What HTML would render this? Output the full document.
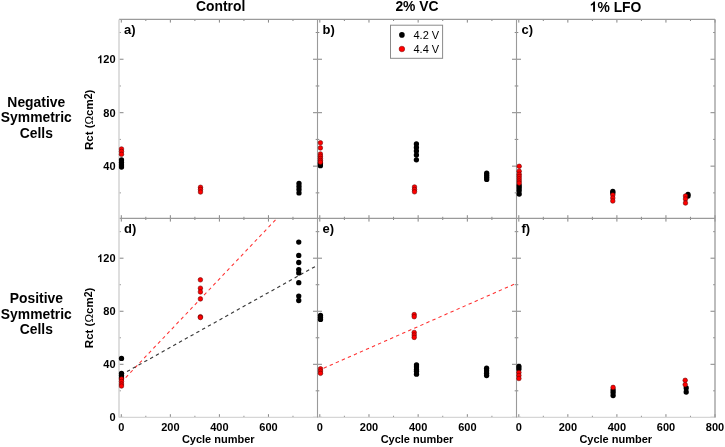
<!DOCTYPE html>
<html><head><meta charset="utf-8"><style>
html,body{margin:0;padding:0;background:#fff;}
body{width:725px;height:447px;overflow:hidden;}
svg{display:block;filter:blur(0.45px);}
</style></head><body>
<svg width="725" height="447" viewBox="0 0 725 447">
<rect width="725" height="447" fill="#fff"/>
<line x1="121.30" y1="19.40" x2="121.30" y2="22.60" stroke="#858585" stroke-width="1.0"/>
<line x1="121.30" y1="218.40" x2="121.30" y2="215.20" stroke="#858585" stroke-width="1.0"/>
<line x1="145.82" y1="19.40" x2="145.82" y2="21.00" stroke="#858585" stroke-width="1.0"/>
<line x1="145.82" y1="218.40" x2="145.82" y2="216.80" stroke="#858585" stroke-width="1.0"/>
<line x1="170.35" y1="19.40" x2="170.35" y2="22.60" stroke="#858585" stroke-width="1.0"/>
<line x1="170.35" y1="218.40" x2="170.35" y2="215.20" stroke="#858585" stroke-width="1.0"/>
<line x1="194.88" y1="19.40" x2="194.88" y2="21.00" stroke="#858585" stroke-width="1.0"/>
<line x1="194.88" y1="218.40" x2="194.88" y2="216.80" stroke="#858585" stroke-width="1.0"/>
<line x1="219.40" y1="19.40" x2="219.40" y2="22.60" stroke="#858585" stroke-width="1.0"/>
<line x1="219.40" y1="218.40" x2="219.40" y2="215.20" stroke="#858585" stroke-width="1.0"/>
<line x1="243.93" y1="19.40" x2="243.93" y2="21.00" stroke="#858585" stroke-width="1.0"/>
<line x1="243.93" y1="218.40" x2="243.93" y2="216.80" stroke="#858585" stroke-width="1.0"/>
<line x1="268.45" y1="19.40" x2="268.45" y2="22.60" stroke="#858585" stroke-width="1.0"/>
<line x1="268.45" y1="218.40" x2="268.45" y2="215.20" stroke="#858585" stroke-width="1.0"/>
<line x1="292.98" y1="19.40" x2="292.98" y2="21.00" stroke="#858585" stroke-width="1.0"/>
<line x1="292.98" y1="218.40" x2="292.98" y2="216.80" stroke="#858585" stroke-width="1.0"/>
<line x1="317.50" y1="19.40" x2="317.50" y2="22.60" stroke="#858585" stroke-width="1.0"/>
<line x1="317.50" y1="218.40" x2="317.50" y2="215.20" stroke="#858585" stroke-width="1.0"/>
<line x1="119.00" y1="192.87" x2="120.80" y2="192.87" stroke="#858585" stroke-width="1.0"/>
<line x1="317.50" y1="192.87" x2="315.70" y2="192.87" stroke="#858585" stroke-width="1.0"/>
<line x1="119.00" y1="166.15" x2="123.50" y2="166.15" stroke="#858585" stroke-width="1.0"/>
<line x1="317.50" y1="166.15" x2="313.00" y2="166.15" stroke="#858585" stroke-width="1.0"/>
<line x1="119.00" y1="139.42" x2="120.80" y2="139.42" stroke="#858585" stroke-width="1.0"/>
<line x1="317.50" y1="139.42" x2="315.70" y2="139.42" stroke="#858585" stroke-width="1.0"/>
<line x1="119.00" y1="112.70" x2="123.50" y2="112.70" stroke="#858585" stroke-width="1.0"/>
<line x1="317.50" y1="112.70" x2="313.00" y2="112.70" stroke="#858585" stroke-width="1.0"/>
<line x1="119.00" y1="85.97" x2="120.80" y2="85.97" stroke="#858585" stroke-width="1.0"/>
<line x1="317.50" y1="85.97" x2="315.70" y2="85.97" stroke="#858585" stroke-width="1.0"/>
<line x1="119.00" y1="59.24" x2="123.50" y2="59.24" stroke="#858585" stroke-width="1.0"/>
<line x1="317.50" y1="59.24" x2="313.00" y2="59.24" stroke="#858585" stroke-width="1.0"/>
<line x1="119.00" y1="32.52" x2="120.80" y2="32.52" stroke="#858585" stroke-width="1.0"/>
<line x1="317.50" y1="32.52" x2="315.70" y2="32.52" stroke="#858585" stroke-width="1.0"/>
<line x1="319.80" y1="19.40" x2="319.80" y2="22.60" stroke="#858585" stroke-width="1.0"/>
<line x1="319.80" y1="218.40" x2="319.80" y2="215.20" stroke="#858585" stroke-width="1.0"/>
<line x1="344.39" y1="19.40" x2="344.39" y2="21.00" stroke="#858585" stroke-width="1.0"/>
<line x1="344.39" y1="218.40" x2="344.39" y2="216.80" stroke="#858585" stroke-width="1.0"/>
<line x1="368.98" y1="19.40" x2="368.98" y2="22.60" stroke="#858585" stroke-width="1.0"/>
<line x1="368.98" y1="218.40" x2="368.98" y2="215.20" stroke="#858585" stroke-width="1.0"/>
<line x1="393.56" y1="19.40" x2="393.56" y2="21.00" stroke="#858585" stroke-width="1.0"/>
<line x1="393.56" y1="218.40" x2="393.56" y2="216.80" stroke="#858585" stroke-width="1.0"/>
<line x1="418.15" y1="19.40" x2="418.15" y2="22.60" stroke="#858585" stroke-width="1.0"/>
<line x1="418.15" y1="218.40" x2="418.15" y2="215.20" stroke="#858585" stroke-width="1.0"/>
<line x1="442.74" y1="19.40" x2="442.74" y2="21.00" stroke="#858585" stroke-width="1.0"/>
<line x1="442.74" y1="218.40" x2="442.74" y2="216.80" stroke="#858585" stroke-width="1.0"/>
<line x1="467.33" y1="19.40" x2="467.33" y2="22.60" stroke="#858585" stroke-width="1.0"/>
<line x1="467.33" y1="218.40" x2="467.33" y2="215.20" stroke="#858585" stroke-width="1.0"/>
<line x1="491.91" y1="19.40" x2="491.91" y2="21.00" stroke="#858585" stroke-width="1.0"/>
<line x1="491.91" y1="218.40" x2="491.91" y2="216.80" stroke="#858585" stroke-width="1.0"/>
<line x1="516.50" y1="19.40" x2="516.50" y2="22.60" stroke="#858585" stroke-width="1.0"/>
<line x1="516.50" y1="218.40" x2="516.50" y2="215.20" stroke="#858585" stroke-width="1.0"/>
<line x1="317.50" y1="192.87" x2="319.30" y2="192.87" stroke="#858585" stroke-width="1.0"/>
<line x1="516.50" y1="192.87" x2="514.70" y2="192.87" stroke="#858585" stroke-width="1.0"/>
<line x1="317.50" y1="166.15" x2="322.00" y2="166.15" stroke="#858585" stroke-width="1.0"/>
<line x1="516.50" y1="166.15" x2="512.00" y2="166.15" stroke="#858585" stroke-width="1.0"/>
<line x1="317.50" y1="139.42" x2="319.30" y2="139.42" stroke="#858585" stroke-width="1.0"/>
<line x1="516.50" y1="139.42" x2="514.70" y2="139.42" stroke="#858585" stroke-width="1.0"/>
<line x1="317.50" y1="112.70" x2="322.00" y2="112.70" stroke="#858585" stroke-width="1.0"/>
<line x1="516.50" y1="112.70" x2="512.00" y2="112.70" stroke="#858585" stroke-width="1.0"/>
<line x1="317.50" y1="85.97" x2="319.30" y2="85.97" stroke="#858585" stroke-width="1.0"/>
<line x1="516.50" y1="85.97" x2="514.70" y2="85.97" stroke="#858585" stroke-width="1.0"/>
<line x1="317.50" y1="59.24" x2="322.00" y2="59.24" stroke="#858585" stroke-width="1.0"/>
<line x1="516.50" y1="59.24" x2="512.00" y2="59.24" stroke="#858585" stroke-width="1.0"/>
<line x1="317.50" y1="32.52" x2="319.30" y2="32.52" stroke="#858585" stroke-width="1.0"/>
<line x1="516.50" y1="32.52" x2="514.70" y2="32.52" stroke="#858585" stroke-width="1.0"/>
<line x1="518.80" y1="19.40" x2="518.80" y2="22.60" stroke="#858585" stroke-width="1.0"/>
<line x1="518.80" y1="218.40" x2="518.80" y2="215.20" stroke="#858585" stroke-width="1.0"/>
<line x1="543.32" y1="19.40" x2="543.32" y2="21.00" stroke="#858585" stroke-width="1.0"/>
<line x1="543.32" y1="218.40" x2="543.32" y2="216.80" stroke="#858585" stroke-width="1.0"/>
<line x1="567.85" y1="19.40" x2="567.85" y2="22.60" stroke="#858585" stroke-width="1.0"/>
<line x1="567.85" y1="218.40" x2="567.85" y2="215.20" stroke="#858585" stroke-width="1.0"/>
<line x1="592.38" y1="19.40" x2="592.38" y2="21.00" stroke="#858585" stroke-width="1.0"/>
<line x1="592.38" y1="218.40" x2="592.38" y2="216.80" stroke="#858585" stroke-width="1.0"/>
<line x1="616.90" y1="19.40" x2="616.90" y2="22.60" stroke="#858585" stroke-width="1.0"/>
<line x1="616.90" y1="218.40" x2="616.90" y2="215.20" stroke="#858585" stroke-width="1.0"/>
<line x1="641.42" y1="19.40" x2="641.42" y2="21.00" stroke="#858585" stroke-width="1.0"/>
<line x1="641.42" y1="218.40" x2="641.42" y2="216.80" stroke="#858585" stroke-width="1.0"/>
<line x1="665.95" y1="19.40" x2="665.95" y2="22.60" stroke="#858585" stroke-width="1.0"/>
<line x1="665.95" y1="218.40" x2="665.95" y2="215.20" stroke="#858585" stroke-width="1.0"/>
<line x1="690.47" y1="19.40" x2="690.47" y2="21.00" stroke="#858585" stroke-width="1.0"/>
<line x1="690.47" y1="218.40" x2="690.47" y2="216.80" stroke="#858585" stroke-width="1.0"/>
<line x1="715.00" y1="19.40" x2="715.00" y2="22.60" stroke="#858585" stroke-width="1.0"/>
<line x1="715.00" y1="218.40" x2="715.00" y2="215.20" stroke="#858585" stroke-width="1.0"/>
<line x1="516.50" y1="192.87" x2="518.30" y2="192.87" stroke="#858585" stroke-width="1.0"/>
<line x1="715.00" y1="192.87" x2="713.20" y2="192.87" stroke="#858585" stroke-width="1.0"/>
<line x1="516.50" y1="166.15" x2="521.00" y2="166.15" stroke="#858585" stroke-width="1.0"/>
<line x1="715.00" y1="166.15" x2="710.50" y2="166.15" stroke="#858585" stroke-width="1.0"/>
<line x1="516.50" y1="139.42" x2="518.30" y2="139.42" stroke="#858585" stroke-width="1.0"/>
<line x1="715.00" y1="139.42" x2="713.20" y2="139.42" stroke="#858585" stroke-width="1.0"/>
<line x1="516.50" y1="112.70" x2="521.00" y2="112.70" stroke="#858585" stroke-width="1.0"/>
<line x1="715.00" y1="112.70" x2="710.50" y2="112.70" stroke="#858585" stroke-width="1.0"/>
<line x1="516.50" y1="85.97" x2="518.30" y2="85.97" stroke="#858585" stroke-width="1.0"/>
<line x1="715.00" y1="85.97" x2="713.20" y2="85.97" stroke="#858585" stroke-width="1.0"/>
<line x1="516.50" y1="59.24" x2="521.00" y2="59.24" stroke="#858585" stroke-width="1.0"/>
<line x1="715.00" y1="59.24" x2="710.50" y2="59.24" stroke="#858585" stroke-width="1.0"/>
<line x1="516.50" y1="32.52" x2="518.30" y2="32.52" stroke="#858585" stroke-width="1.0"/>
<line x1="715.00" y1="32.52" x2="713.20" y2="32.52" stroke="#858585" stroke-width="1.0"/>
<line x1="121.30" y1="218.40" x2="121.30" y2="221.60" stroke="#858585" stroke-width="1.0"/>
<line x1="121.30" y1="417.40" x2="121.30" y2="414.20" stroke="#858585" stroke-width="1.0"/>
<line x1="145.82" y1="218.40" x2="145.82" y2="220.00" stroke="#858585" stroke-width="1.0"/>
<line x1="145.82" y1="417.40" x2="145.82" y2="415.80" stroke="#858585" stroke-width="1.0"/>
<line x1="170.35" y1="218.40" x2="170.35" y2="221.60" stroke="#858585" stroke-width="1.0"/>
<line x1="170.35" y1="417.40" x2="170.35" y2="414.20" stroke="#858585" stroke-width="1.0"/>
<line x1="194.88" y1="218.40" x2="194.88" y2="220.00" stroke="#858585" stroke-width="1.0"/>
<line x1="194.88" y1="417.40" x2="194.88" y2="415.80" stroke="#858585" stroke-width="1.0"/>
<line x1="219.40" y1="218.40" x2="219.40" y2="221.60" stroke="#858585" stroke-width="1.0"/>
<line x1="219.40" y1="417.40" x2="219.40" y2="414.20" stroke="#858585" stroke-width="1.0"/>
<line x1="243.93" y1="218.40" x2="243.93" y2="220.00" stroke="#858585" stroke-width="1.0"/>
<line x1="243.93" y1="417.40" x2="243.93" y2="415.80" stroke="#858585" stroke-width="1.0"/>
<line x1="268.45" y1="218.40" x2="268.45" y2="221.60" stroke="#858585" stroke-width="1.0"/>
<line x1="268.45" y1="417.40" x2="268.45" y2="414.20" stroke="#858585" stroke-width="1.0"/>
<line x1="292.98" y1="218.40" x2="292.98" y2="220.00" stroke="#858585" stroke-width="1.0"/>
<line x1="292.98" y1="417.40" x2="292.98" y2="415.80" stroke="#858585" stroke-width="1.0"/>
<line x1="317.50" y1="218.40" x2="317.50" y2="221.60" stroke="#858585" stroke-width="1.0"/>
<line x1="317.50" y1="417.40" x2="317.50" y2="414.20" stroke="#858585" stroke-width="1.0"/>
<line x1="119.00" y1="417.35" x2="123.50" y2="417.35" stroke="#858585" stroke-width="1.0"/>
<line x1="317.50" y1="417.35" x2="313.00" y2="417.35" stroke="#858585" stroke-width="1.0"/>
<line x1="119.00" y1="390.82" x2="120.80" y2="390.82" stroke="#858585" stroke-width="1.0"/>
<line x1="317.50" y1="390.82" x2="315.70" y2="390.82" stroke="#858585" stroke-width="1.0"/>
<line x1="119.00" y1="364.30" x2="123.50" y2="364.30" stroke="#858585" stroke-width="1.0"/>
<line x1="317.50" y1="364.30" x2="313.00" y2="364.30" stroke="#858585" stroke-width="1.0"/>
<line x1="119.00" y1="337.77" x2="120.80" y2="337.77" stroke="#858585" stroke-width="1.0"/>
<line x1="317.50" y1="337.77" x2="315.70" y2="337.77" stroke="#858585" stroke-width="1.0"/>
<line x1="119.00" y1="311.25" x2="123.50" y2="311.25" stroke="#858585" stroke-width="1.0"/>
<line x1="317.50" y1="311.25" x2="313.00" y2="311.25" stroke="#858585" stroke-width="1.0"/>
<line x1="119.00" y1="284.72" x2="120.80" y2="284.72" stroke="#858585" stroke-width="1.0"/>
<line x1="317.50" y1="284.72" x2="315.70" y2="284.72" stroke="#858585" stroke-width="1.0"/>
<line x1="119.00" y1="258.19" x2="123.50" y2="258.19" stroke="#858585" stroke-width="1.0"/>
<line x1="317.50" y1="258.19" x2="313.00" y2="258.19" stroke="#858585" stroke-width="1.0"/>
<line x1="119.00" y1="231.67" x2="120.80" y2="231.67" stroke="#858585" stroke-width="1.0"/>
<line x1="317.50" y1="231.67" x2="315.70" y2="231.67" stroke="#858585" stroke-width="1.0"/>
<line x1="319.80" y1="218.40" x2="319.80" y2="221.60" stroke="#858585" stroke-width="1.0"/>
<line x1="319.80" y1="417.40" x2="319.80" y2="414.20" stroke="#858585" stroke-width="1.0"/>
<line x1="344.39" y1="218.40" x2="344.39" y2="220.00" stroke="#858585" stroke-width="1.0"/>
<line x1="344.39" y1="417.40" x2="344.39" y2="415.80" stroke="#858585" stroke-width="1.0"/>
<line x1="368.98" y1="218.40" x2="368.98" y2="221.60" stroke="#858585" stroke-width="1.0"/>
<line x1="368.98" y1="417.40" x2="368.98" y2="414.20" stroke="#858585" stroke-width="1.0"/>
<line x1="393.56" y1="218.40" x2="393.56" y2="220.00" stroke="#858585" stroke-width="1.0"/>
<line x1="393.56" y1="417.40" x2="393.56" y2="415.80" stroke="#858585" stroke-width="1.0"/>
<line x1="418.15" y1="218.40" x2="418.15" y2="221.60" stroke="#858585" stroke-width="1.0"/>
<line x1="418.15" y1="417.40" x2="418.15" y2="414.20" stroke="#858585" stroke-width="1.0"/>
<line x1="442.74" y1="218.40" x2="442.74" y2="220.00" stroke="#858585" stroke-width="1.0"/>
<line x1="442.74" y1="417.40" x2="442.74" y2="415.80" stroke="#858585" stroke-width="1.0"/>
<line x1="467.33" y1="218.40" x2="467.33" y2="221.60" stroke="#858585" stroke-width="1.0"/>
<line x1="467.33" y1="417.40" x2="467.33" y2="414.20" stroke="#858585" stroke-width="1.0"/>
<line x1="491.91" y1="218.40" x2="491.91" y2="220.00" stroke="#858585" stroke-width="1.0"/>
<line x1="491.91" y1="417.40" x2="491.91" y2="415.80" stroke="#858585" stroke-width="1.0"/>
<line x1="516.50" y1="218.40" x2="516.50" y2="221.60" stroke="#858585" stroke-width="1.0"/>
<line x1="516.50" y1="417.40" x2="516.50" y2="414.20" stroke="#858585" stroke-width="1.0"/>
<line x1="317.50" y1="417.35" x2="322.00" y2="417.35" stroke="#858585" stroke-width="1.0"/>
<line x1="516.50" y1="417.35" x2="512.00" y2="417.35" stroke="#858585" stroke-width="1.0"/>
<line x1="317.50" y1="390.82" x2="319.30" y2="390.82" stroke="#858585" stroke-width="1.0"/>
<line x1="516.50" y1="390.82" x2="514.70" y2="390.82" stroke="#858585" stroke-width="1.0"/>
<line x1="317.50" y1="364.30" x2="322.00" y2="364.30" stroke="#858585" stroke-width="1.0"/>
<line x1="516.50" y1="364.30" x2="512.00" y2="364.30" stroke="#858585" stroke-width="1.0"/>
<line x1="317.50" y1="337.77" x2="319.30" y2="337.77" stroke="#858585" stroke-width="1.0"/>
<line x1="516.50" y1="337.77" x2="514.70" y2="337.77" stroke="#858585" stroke-width="1.0"/>
<line x1="317.50" y1="311.25" x2="322.00" y2="311.25" stroke="#858585" stroke-width="1.0"/>
<line x1="516.50" y1="311.25" x2="512.00" y2="311.25" stroke="#858585" stroke-width="1.0"/>
<line x1="317.50" y1="284.72" x2="319.30" y2="284.72" stroke="#858585" stroke-width="1.0"/>
<line x1="516.50" y1="284.72" x2="514.70" y2="284.72" stroke="#858585" stroke-width="1.0"/>
<line x1="317.50" y1="258.19" x2="322.00" y2="258.19" stroke="#858585" stroke-width="1.0"/>
<line x1="516.50" y1="258.19" x2="512.00" y2="258.19" stroke="#858585" stroke-width="1.0"/>
<line x1="317.50" y1="231.67" x2="319.30" y2="231.67" stroke="#858585" stroke-width="1.0"/>
<line x1="516.50" y1="231.67" x2="514.70" y2="231.67" stroke="#858585" stroke-width="1.0"/>
<line x1="518.80" y1="218.40" x2="518.80" y2="221.60" stroke="#858585" stroke-width="1.0"/>
<line x1="518.80" y1="417.40" x2="518.80" y2="414.20" stroke="#858585" stroke-width="1.0"/>
<line x1="543.32" y1="218.40" x2="543.32" y2="220.00" stroke="#858585" stroke-width="1.0"/>
<line x1="543.32" y1="417.40" x2="543.32" y2="415.80" stroke="#858585" stroke-width="1.0"/>
<line x1="567.85" y1="218.40" x2="567.85" y2="221.60" stroke="#858585" stroke-width="1.0"/>
<line x1="567.85" y1="417.40" x2="567.85" y2="414.20" stroke="#858585" stroke-width="1.0"/>
<line x1="592.38" y1="218.40" x2="592.38" y2="220.00" stroke="#858585" stroke-width="1.0"/>
<line x1="592.38" y1="417.40" x2="592.38" y2="415.80" stroke="#858585" stroke-width="1.0"/>
<line x1="616.90" y1="218.40" x2="616.90" y2="221.60" stroke="#858585" stroke-width="1.0"/>
<line x1="616.90" y1="417.40" x2="616.90" y2="414.20" stroke="#858585" stroke-width="1.0"/>
<line x1="641.42" y1="218.40" x2="641.42" y2="220.00" stroke="#858585" stroke-width="1.0"/>
<line x1="641.42" y1="417.40" x2="641.42" y2="415.80" stroke="#858585" stroke-width="1.0"/>
<line x1="665.95" y1="218.40" x2="665.95" y2="221.60" stroke="#858585" stroke-width="1.0"/>
<line x1="665.95" y1="417.40" x2="665.95" y2="414.20" stroke="#858585" stroke-width="1.0"/>
<line x1="690.47" y1="218.40" x2="690.47" y2="220.00" stroke="#858585" stroke-width="1.0"/>
<line x1="690.47" y1="417.40" x2="690.47" y2="415.80" stroke="#858585" stroke-width="1.0"/>
<line x1="715.00" y1="218.40" x2="715.00" y2="221.60" stroke="#858585" stroke-width="1.0"/>
<line x1="715.00" y1="417.40" x2="715.00" y2="414.20" stroke="#858585" stroke-width="1.0"/>
<line x1="516.50" y1="417.35" x2="521.00" y2="417.35" stroke="#858585" stroke-width="1.0"/>
<line x1="715.00" y1="417.35" x2="710.50" y2="417.35" stroke="#858585" stroke-width="1.0"/>
<line x1="516.50" y1="390.82" x2="518.30" y2="390.82" stroke="#858585" stroke-width="1.0"/>
<line x1="715.00" y1="390.82" x2="713.20" y2="390.82" stroke="#858585" stroke-width="1.0"/>
<line x1="516.50" y1="364.30" x2="521.00" y2="364.30" stroke="#858585" stroke-width="1.0"/>
<line x1="715.00" y1="364.30" x2="710.50" y2="364.30" stroke="#858585" stroke-width="1.0"/>
<line x1="516.50" y1="337.77" x2="518.30" y2="337.77" stroke="#858585" stroke-width="1.0"/>
<line x1="715.00" y1="337.77" x2="713.20" y2="337.77" stroke="#858585" stroke-width="1.0"/>
<line x1="516.50" y1="311.25" x2="521.00" y2="311.25" stroke="#858585" stroke-width="1.0"/>
<line x1="715.00" y1="311.25" x2="710.50" y2="311.25" stroke="#858585" stroke-width="1.0"/>
<line x1="516.50" y1="284.72" x2="518.30" y2="284.72" stroke="#858585" stroke-width="1.0"/>
<line x1="715.00" y1="284.72" x2="713.20" y2="284.72" stroke="#858585" stroke-width="1.0"/>
<line x1="516.50" y1="258.19" x2="521.00" y2="258.19" stroke="#858585" stroke-width="1.0"/>
<line x1="715.00" y1="258.19" x2="710.50" y2="258.19" stroke="#858585" stroke-width="1.0"/>
<line x1="516.50" y1="231.67" x2="518.30" y2="231.67" stroke="#858585" stroke-width="1.0"/>
<line x1="715.00" y1="231.67" x2="713.20" y2="231.67" stroke="#858585" stroke-width="1.0"/>
<line x1="119.00" y1="19.40" x2="715.00" y2="19.40" stroke="#9a9a9a" stroke-width="1.2"/>
<line x1="119.00" y1="218.40" x2="715.00" y2="218.40" stroke="#9a9a9a" stroke-width="1.1"/>
<line x1="119.00" y1="417.40" x2="715.00" y2="417.40" stroke="#d6d6d6" stroke-width="1.3"/>
<line x1="119.00" y1="19.40" x2="119.00" y2="417.40" stroke="#d6d6d6" stroke-width="1.6"/>
<line x1="317.50" y1="19.40" x2="317.50" y2="417.40" stroke="#9a9a9a" stroke-width="1.1"/>
<line x1="516.50" y1="19.40" x2="516.50" y2="417.40" stroke="#9a9a9a" stroke-width="1.1"/>
<line x1="715.00" y1="19.40" x2="715.00" y2="417.40" stroke="#9a9a9a" stroke-width="1.3"/>
<line x1="121.5" y1="382.0" x2="276.87" y2="218.4" stroke="#ff3030" stroke-width="1.05" stroke-dasharray="3.4 3.29" stroke-dashoffset="0.56"/>
<line x1="121.5" y1="374.6" x2="317.5" y2="265.2" stroke="#383838" stroke-width="1.15" stroke-dasharray="3.4 3.22" stroke-dashoffset="0.34"/>
<line x1="320.5" y1="369.6" x2="516.5" y2="283.2" stroke="#ff3030" stroke-width="1.05" stroke-dasharray="3.4 3.2" stroke-dashoffset="3.15"/>
<circle cx="121.50" cy="160.00" r="2.65" fill="#000"/>
<circle cx="121.50" cy="162.50" r="2.65" fill="#000"/>
<circle cx="121.50" cy="165.00" r="2.65" fill="#000"/>
<circle cx="121.50" cy="167.00" r="2.65" fill="#000"/>
<circle cx="299.00" cy="183.40" r="2.65" fill="#000"/>
<circle cx="299.00" cy="186.50" r="2.65" fill="#000"/>
<circle cx="299.00" cy="189.50" r="2.65" fill="#000"/>
<circle cx="299.00" cy="192.90" r="2.65" fill="#000"/>
<circle cx="320.40" cy="163.50" r="2.65" fill="#000"/>
<circle cx="320.40" cy="165.70" r="2.65" fill="#000"/>
<circle cx="416.40" cy="144.00" r="2.65" fill="#000"/>
<circle cx="416.40" cy="147.50" r="2.65" fill="#000"/>
<circle cx="416.40" cy="151.00" r="2.65" fill="#000"/>
<circle cx="416.40" cy="155.00" r="2.65" fill="#000"/>
<circle cx="416.40" cy="159.80" r="2.65" fill="#000"/>
<circle cx="486.70" cy="173.20" r="2.65" fill="#000"/>
<circle cx="486.70" cy="175.30" r="2.65" fill="#000"/>
<circle cx="486.70" cy="177.30" r="2.65" fill="#000"/>
<circle cx="486.70" cy="179.40" r="2.65" fill="#000"/>
<circle cx="519.20" cy="185.50" r="2.65" fill="#000"/>
<circle cx="519.20" cy="187.80" r="2.65" fill="#000"/>
<circle cx="519.20" cy="190.50" r="2.65" fill="#000"/>
<circle cx="519.20" cy="194.00" r="2.65" fill="#000"/>
<circle cx="612.80" cy="191.50" r="2.65" fill="#000"/>
<circle cx="612.80" cy="193.00" r="2.65" fill="#000"/>
<circle cx="688.00" cy="194.50" r="2.65" fill="#000"/>
<circle cx="688.00" cy="196.00" r="2.65" fill="#000"/>
<circle cx="121.50" cy="358.40" r="2.65" fill="#000"/>
<circle cx="121.50" cy="373.50" r="2.65" fill="#000"/>
<circle cx="121.50" cy="375.50" r="2.65" fill="#000"/>
<circle cx="121.50" cy="378.00" r="2.65" fill="#000"/>
<circle cx="298.75" cy="242.10" r="2.65" fill="#000"/>
<circle cx="298.75" cy="255.40" r="2.65" fill="#000"/>
<circle cx="298.75" cy="262.50" r="2.65" fill="#000"/>
<circle cx="298.75" cy="269.60" r="2.65" fill="#000"/>
<circle cx="298.75" cy="272.90" r="2.65" fill="#000"/>
<circle cx="298.75" cy="282.70" r="2.65" fill="#000"/>
<circle cx="298.75" cy="296.10" r="2.65" fill="#000"/>
<circle cx="298.75" cy="300.50" r="2.65" fill="#000"/>
<circle cx="320.50" cy="315.50" r="2.65" fill="#000"/>
<circle cx="320.50" cy="317.50" r="2.65" fill="#000"/>
<circle cx="320.50" cy="319.40" r="2.65" fill="#000"/>
<circle cx="416.50" cy="364.80" r="2.65" fill="#000"/>
<circle cx="416.50" cy="367.00" r="2.65" fill="#000"/>
<circle cx="416.50" cy="369.50" r="2.65" fill="#000"/>
<circle cx="416.50" cy="371.20" r="2.65" fill="#000"/>
<circle cx="416.50" cy="374.20" r="2.65" fill="#000"/>
<circle cx="486.60" cy="368.20" r="2.65" fill="#000"/>
<circle cx="486.60" cy="370.70" r="2.65" fill="#000"/>
<circle cx="486.60" cy="373.20" r="2.65" fill="#000"/>
<circle cx="486.60" cy="375.60" r="2.65" fill="#000"/>
<circle cx="518.90" cy="366.50" r="2.65" fill="#000"/>
<circle cx="518.90" cy="369.00" r="2.65" fill="#000"/>
<circle cx="613.10" cy="390.00" r="2.65" fill="#000"/>
<circle cx="613.10" cy="392.50" r="2.65" fill="#000"/>
<circle cx="613.10" cy="395.50" r="2.65" fill="#000"/>
<circle cx="686.20" cy="388.00" r="2.65" fill="#000"/>
<circle cx="686.20" cy="392.00" r="2.65" fill="#000"/>
<circle cx="121.50" cy="149.00" r="2.3" fill="#ff0000" stroke="#600000" stroke-width="0.55"/>
<circle cx="121.50" cy="151.50" r="2.3" fill="#ff0000" stroke="#600000" stroke-width="0.55"/>
<circle cx="121.50" cy="154.30" r="2.3" fill="#ff0000" stroke="#600000" stroke-width="0.55"/>
<circle cx="200.50" cy="187.30" r="2.3" fill="#ff0000" stroke="#600000" stroke-width="0.55"/>
<circle cx="200.50" cy="189.50" r="2.3" fill="#ff0000" stroke="#600000" stroke-width="0.55"/>
<circle cx="200.50" cy="192.00" r="2.3" fill="#ff0000" stroke="#600000" stroke-width="0.55"/>
<circle cx="320.40" cy="142.80" r="2.3" fill="#ff0000" stroke="#600000" stroke-width="0.55"/>
<circle cx="320.40" cy="147.90" r="2.3" fill="#ff0000" stroke="#600000" stroke-width="0.55"/>
<circle cx="320.40" cy="154.00" r="2.3" fill="#ff0000" stroke="#600000" stroke-width="0.55"/>
<circle cx="320.40" cy="156.20" r="2.3" fill="#ff0000" stroke="#600000" stroke-width="0.55"/>
<circle cx="320.40" cy="158.50" r="2.3" fill="#ff0000" stroke="#600000" stroke-width="0.55"/>
<circle cx="320.40" cy="160.50" r="2.3" fill="#ff0000" stroke="#600000" stroke-width="0.55"/>
<circle cx="320.40" cy="162.20" r="2.3" fill="#ff0000" stroke="#600000" stroke-width="0.55"/>
<circle cx="414.50" cy="187.00" r="2.3" fill="#ff0000" stroke="#600000" stroke-width="0.55"/>
<circle cx="414.50" cy="189.50" r="2.3" fill="#ff0000" stroke="#600000" stroke-width="0.55"/>
<circle cx="414.50" cy="191.80" r="2.3" fill="#ff0000" stroke="#600000" stroke-width="0.55"/>
<circle cx="519.20" cy="166.30" r="2.3" fill="#ff0000" stroke="#600000" stroke-width="0.55"/>
<circle cx="519.20" cy="171.20" r="2.3" fill="#ff0000" stroke="#600000" stroke-width="0.55"/>
<circle cx="519.20" cy="174.30" r="2.3" fill="#ff0000" stroke="#600000" stroke-width="0.55"/>
<circle cx="519.20" cy="176.50" r="2.3" fill="#ff0000" stroke="#600000" stroke-width="0.55"/>
<circle cx="519.20" cy="178.80" r="2.3" fill="#ff0000" stroke="#600000" stroke-width="0.55"/>
<circle cx="519.20" cy="181.00" r="2.3" fill="#ff0000" stroke="#600000" stroke-width="0.55"/>
<circle cx="519.20" cy="183.10" r="2.3" fill="#ff0000" stroke="#600000" stroke-width="0.55"/>
<circle cx="612.80" cy="195.00" r="2.3" fill="#ff0000" stroke="#600000" stroke-width="0.55"/>
<circle cx="612.80" cy="198.00" r="2.3" fill="#ff0000" stroke="#600000" stroke-width="0.55"/>
<circle cx="612.80" cy="201.00" r="2.3" fill="#ff0000" stroke="#600000" stroke-width="0.55"/>
<circle cx="685.50" cy="196.00" r="2.3" fill="#ff0000" stroke="#600000" stroke-width="0.55"/>
<circle cx="685.50" cy="199.00" r="2.3" fill="#ff0000" stroke="#600000" stroke-width="0.55"/>
<circle cx="685.50" cy="203.00" r="2.3" fill="#ff0000" stroke="#600000" stroke-width="0.55"/>
<circle cx="121.50" cy="379.00" r="2.3" fill="#ff0000" stroke="#600000" stroke-width="0.55"/>
<circle cx="121.50" cy="381.50" r="2.3" fill="#ff0000" stroke="#600000" stroke-width="0.55"/>
<circle cx="121.50" cy="384.00" r="2.3" fill="#ff0000" stroke="#600000" stroke-width="0.55"/>
<circle cx="121.50" cy="386.00" r="2.3" fill="#ff0000" stroke="#600000" stroke-width="0.55"/>
<circle cx="200.40" cy="279.80" r="2.3" fill="#ff0000" stroke="#600000" stroke-width="0.55"/>
<circle cx="200.40" cy="288.20" r="2.3" fill="#ff0000" stroke="#600000" stroke-width="0.55"/>
<circle cx="200.40" cy="291.90" r="2.3" fill="#ff0000" stroke="#600000" stroke-width="0.55"/>
<circle cx="200.40" cy="298.90" r="2.3" fill="#ff0000" stroke="#600000" stroke-width="0.55"/>
<circle cx="200.40" cy="316.70" r="2.3" fill="#ff0000" stroke="#600000" stroke-width="0.55"/>
<circle cx="200.40" cy="317.50" r="2.3" fill="#ff0000" stroke="#600000" stroke-width="0.55"/>
<circle cx="320.50" cy="368.80" r="2.3" fill="#ff0000" stroke="#600000" stroke-width="0.55"/>
<circle cx="320.50" cy="371.00" r="2.3" fill="#ff0000" stroke="#600000" stroke-width="0.55"/>
<circle cx="320.50" cy="373.30" r="2.3" fill="#ff0000" stroke="#600000" stroke-width="0.55"/>
<circle cx="414.20" cy="314.60" r="2.3" fill="#ff0000" stroke="#600000" stroke-width="0.55"/>
<circle cx="414.20" cy="316.70" r="2.3" fill="#ff0000" stroke="#600000" stroke-width="0.55"/>
<circle cx="414.20" cy="332.50" r="2.3" fill="#ff0000" stroke="#600000" stroke-width="0.55"/>
<circle cx="414.20" cy="335.00" r="2.3" fill="#ff0000" stroke="#600000" stroke-width="0.55"/>
<circle cx="414.20" cy="337.40" r="2.3" fill="#ff0000" stroke="#600000" stroke-width="0.55"/>
<circle cx="518.90" cy="372.50" r="2.3" fill="#ff0000" stroke="#600000" stroke-width="0.55"/>
<circle cx="518.90" cy="375.50" r="2.3" fill="#ff0000" stroke="#600000" stroke-width="0.55"/>
<circle cx="518.90" cy="378.50" r="2.3" fill="#ff0000" stroke="#600000" stroke-width="0.55"/>
<circle cx="613.10" cy="387.40" r="2.3" fill="#ff0000" stroke="#600000" stroke-width="0.55"/>
<circle cx="685.20" cy="380.30" r="2.3" fill="#ff0000" stroke="#600000" stroke-width="0.55"/>
<circle cx="685.20" cy="384.60" r="2.3" fill="#ff0000" stroke="#600000" stroke-width="0.55"/>
<rect x="390.5" y="25.2" width="52.1" height="33.1" fill="#fff" stroke="#8a8a8a" stroke-width="1"/>
<circle cx="401.9" cy="34.9" r="2.8" fill="#000"/>
<circle cx="401.9" cy="49.0" r="2.8" fill="#ff0000" stroke="#700000" stroke-width="0.5"/>
<text x="413.5" y="38.9" font-family='"Liberation Sans", sans-serif' font-size="11" fill="#000">4.2 V</text>
<text x="413.5" y="53.0" font-family='"Liberation Sans", sans-serif' font-size="11" fill="#000">4.4 V</text>
<text transform="translate(220.60 11.25) scale(1 1.035)" font-family='"Liberation Sans", sans-serif' font-size="13.9" font-weight="bold" text-anchor="middle" >Control</text>
<text transform="translate(417.00 11.25) scale(1 1.035)" font-family='"Liberation Sans", sans-serif' font-size="13.9" font-weight="bold" text-anchor="middle" >2% VC</text>
<g transform="translate(589.725 11.8) scale(1 1.035)">
<path transform="translate(0.000 0.000) scale(0.01390 -0.01390)" d="M380 0L244 0L244 510C196 465 140 432 80 412L80 535C118 548 162 572 205 608C248 644 272 680 286 716L380 716Z" fill="#000"/>
<text x="7.728" y="0" font-family='"Liberation Sans", sans-serif' font-size="13.9" font-weight="bold">% LFO</text>
</g>
<text transform="translate(36.30 106.80) scale(1 1.035)" font-family='"Liberation Sans", sans-serif' font-size="13.9" font-weight="bold" text-anchor="middle" >Negative</text>
<text transform="translate(36.30 121.80) scale(1 1.035)" font-family='"Liberation Sans", sans-serif' font-size="13.9" font-weight="bold" text-anchor="middle" >Symmetric</text>
<text transform="translate(36.30 137.70) scale(1 1.035)" font-family='"Liberation Sans", sans-serif' font-size="13.9" font-weight="bold" text-anchor="middle" >Cells</text>
<text transform="translate(36.30 303.10) scale(1 1.035)" font-family='"Liberation Sans", sans-serif' font-size="13.9" font-weight="bold" text-anchor="middle" >Positive</text>
<text transform="translate(36.30 318.50) scale(1 1.035)" font-family='"Liberation Sans", sans-serif' font-size="13.9" font-weight="bold" text-anchor="middle" >Symmetric</text>
<text transform="translate(36.30 334.40) scale(1 1.035)" font-family='"Liberation Sans", sans-serif' font-size="13.9" font-weight="bold" text-anchor="middle" >Cells</text>
<text transform="translate(93.3 119.80) rotate(-90)" font-family='"Liberation Sans", sans-serif' font-size="11.5" text-anchor="middle"><tspan font-weight="bold">Rct (</tspan><tspan>Ω</tspan><tspan font-weight="bold">cm</tspan><tspan font-weight="bold" dy="-1.3" font-size="10.5">2</tspan><tspan font-weight="bold" dy="1.3">)</tspan></text>
<text transform="translate(93.3 317.90) rotate(-90)" font-family='"Liberation Sans", sans-serif' font-size="11.5" text-anchor="middle"><tspan font-weight="bold">Rct (</tspan><tspan>Ω</tspan><tspan font-weight="bold">cm</tspan><tspan font-weight="bold" dy="-1.3" font-size="10.5">2</tspan><tspan font-weight="bold" dy="1.3">)</tspan></text>
<text x="115.60" y="170.05" font-family='"Liberation Sans", sans-serif' font-size="11" font-weight="bold" text-anchor="end" >40</text>
<text x="115.60" y="116.60" font-family='"Liberation Sans", sans-serif' font-size="11" font-weight="bold" text-anchor="end" >80</text>
<path transform="translate(97.252 63.144) scale(0.01100 -0.01100)" d="M380 0L244 0L244 510C196 465 140 432 80 412L80 535C118 548 162 572 205 608C248 644 272 680 286 716L380 716Z" fill="#000"/>
<text x="103.37" y="63.14" font-family='"Liberation Sans", sans-serif' font-size="11" font-weight="bold" text-anchor="start" >20</text>
<text x="115.60" y="421.25" font-family='"Liberation Sans", sans-serif' font-size="11" font-weight="bold" text-anchor="end" >0</text>
<text x="115.60" y="368.20" font-family='"Liberation Sans", sans-serif' font-size="11" font-weight="bold" text-anchor="end" >40</text>
<text x="115.60" y="315.15" font-family='"Liberation Sans", sans-serif' font-size="11" font-weight="bold" text-anchor="end" >80</text>
<path transform="translate(97.252 262.094) scale(0.01100 -0.01100)" d="M380 0L244 0L244 510C196 465 140 432 80 412L80 535C118 548 162 572 205 608C248 644 272 680 286 716L380 716Z" fill="#000"/>
<text x="103.37" y="262.09" font-family='"Liberation Sans", sans-serif' font-size="11" font-weight="bold" text-anchor="start" >20</text>
<text x="121.30" y="430.70" font-family='"Liberation Sans", sans-serif' font-size="11" font-weight="bold" text-anchor="middle" >0</text>
<text x="170.35" y="430.70" font-family='"Liberation Sans", sans-serif' font-size="11" font-weight="bold" text-anchor="middle" >200</text>
<text x="219.40" y="430.70" font-family='"Liberation Sans", sans-serif' font-size="11" font-weight="bold" text-anchor="middle" >400</text>
<text x="268.45" y="430.70" font-family='"Liberation Sans", sans-serif' font-size="11" font-weight="bold" text-anchor="middle" >600</text>
<text x="218.25" y="442.80" font-family='"Liberation Sans", sans-serif' font-size="11" font-weight="bold" text-anchor="middle" >Cycle number</text>
<text x="319.80" y="430.70" font-family='"Liberation Sans", sans-serif' font-size="11" font-weight="bold" text-anchor="middle" >0</text>
<text x="368.98" y="430.70" font-family='"Liberation Sans", sans-serif' font-size="11" font-weight="bold" text-anchor="middle" >200</text>
<text x="418.15" y="430.70" font-family='"Liberation Sans", sans-serif' font-size="11" font-weight="bold" text-anchor="middle" >400</text>
<text x="467.33" y="430.70" font-family='"Liberation Sans", sans-serif' font-size="11" font-weight="bold" text-anchor="middle" >600</text>
<text x="417.00" y="442.80" font-family='"Liberation Sans", sans-serif' font-size="11" font-weight="bold" text-anchor="middle" >Cycle number</text>
<text x="518.80" y="430.70" font-family='"Liberation Sans", sans-serif' font-size="11" font-weight="bold" text-anchor="middle" >0</text>
<text x="567.85" y="430.70" font-family='"Liberation Sans", sans-serif' font-size="11" font-weight="bold" text-anchor="middle" >200</text>
<text x="616.90" y="430.70" font-family='"Liberation Sans", sans-serif' font-size="11" font-weight="bold" text-anchor="middle" >400</text>
<text x="665.95" y="430.70" font-family='"Liberation Sans", sans-serif' font-size="11" font-weight="bold" text-anchor="middle" >600</text>
<text x="715.00" y="430.70" font-family='"Liberation Sans", sans-serif' font-size="11" font-weight="bold" text-anchor="middle" >800</text>
<text x="615.75" y="442.80" font-family='"Liberation Sans", sans-serif' font-size="11" font-weight="bold" text-anchor="middle" >Cycle number</text>
<text transform="translate(124.00 34.00) scale(1 1.05)" font-family='"Liberation Sans", sans-serif' font-size="13" font-weight="bold" text-anchor="start" >a)</text>
<text transform="translate(322.50 34.00) scale(1 1.05)" font-family='"Liberation Sans", sans-serif' font-size="13" font-weight="bold" text-anchor="start" >b)</text>
<text transform="translate(521.50 34.00) scale(1 1.05)" font-family='"Liberation Sans", sans-serif' font-size="13" font-weight="bold" text-anchor="start" >c)</text>
<text transform="translate(124.00 233.00) scale(1 1.05)" font-family='"Liberation Sans", sans-serif' font-size="13" font-weight="bold" text-anchor="start" >d)</text>
<text transform="translate(322.50 233.00) scale(1 1.05)" font-family='"Liberation Sans", sans-serif' font-size="13" font-weight="bold" text-anchor="start" >e)</text>
<text transform="translate(521.50 233.00) scale(1 1.05)" font-family='"Liberation Sans", sans-serif' font-size="13" font-weight="bold" text-anchor="start" >f)</text>
</svg>
</body></html>
